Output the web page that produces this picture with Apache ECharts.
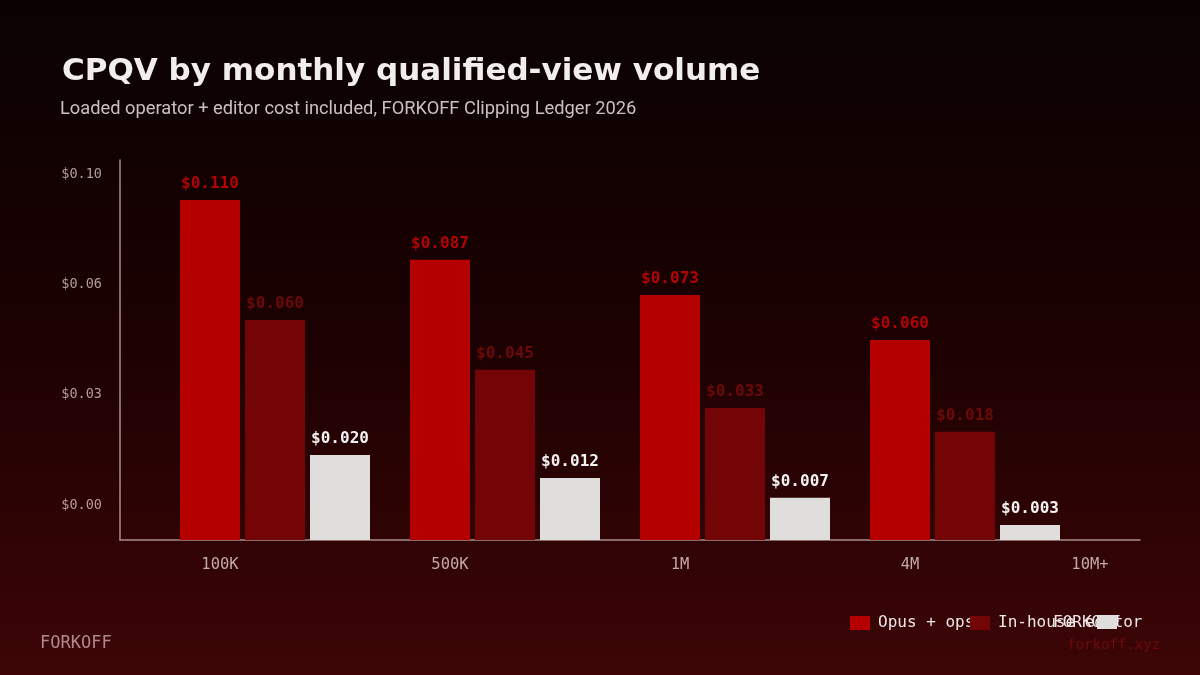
<!DOCTYPE html>
<html>
<head>
<meta charset="utf-8">
<script src="https://cdn.jsdelivr.net/npm/echarts@6/dist/echarts.min.js"></script>
<style>
  html, body { margin: 0; padding: 0; background: #0a0000; }
  #chart { width: 1200px; height: 675px; }
</style>
</head>
<body>
<div id="chart"></div>
<script>
// ---- data ----
const categories = ['100K', '500K', '1M', '4M', '10M+'];
const seriesNames = ['Opus + ops', 'In-house editor', 'FORKOFF'];
// bar heights as read against the y axis
const opusValues = [0.0927, 0.0764, 0.0668, 0.0545];
const inhouseValues = [0.0600, 0.0464, 0.0360, 0.0295];
const forkoffValues = [0.0232, 0.0169, 0.0115, 0.0041];
// values printed above the bars
const opusLabels = [0.110, 0.087, 0.073, 0.060];
const inhouseLabels = [0.060, 0.045, 0.033, 0.018];
const forkoffLabels = [0.020, 0.012, 0.007, 0.003];
// y-axis tick labels
const yTickLabels = ['$0.00', '$0.03', '$0.06', '$0.10'];
const yInterval = 0.03;
const yMax = 0.1036;

const barCategories = categories.slice(0, opusValues.length);

const MONO = '"DejaVu Sans Mono", monospace';
const colors = ['#b50000', '#740507', '#e0dddd'];
const labelColors = ['#b30303', '#6c0909', '#f4f2f2'];
const labelSets = [opusLabels, inhouseLabels, forkoffLabels];
const valueSets = [opusValues, inhouseValues, forkoffValues];

const chart = echarts.init(document.getElementById('chart'), null, { renderer: 'canvas' });

const series = seriesNames.map((name, i) => ({
  name: name,
  type: 'bar',
  xAxisIndex: 1,
  yAxisIndex: 1,
  data: valueSets[i],
  barWidth: 60,
  barGap: '8.33%',
  itemStyle: { color: colors[i] },
  label: {
    show: true,
    position: 'top',
    distance: 8,
    fontFamily: MONO,
    fontWeight: 'bold',
    fontSize: 16,
    color: labelColors[i],
    formatter: (p) => '$' + labelSets[i][p.dataIndex].toFixed(3)
  }
}));

const legendText = { color: '#f0e8e8', fontFamily: MONO, fontSize: 16 };

const option = {
  animation: false,
  backgroundColor: {
    type: 'linear', x: 0, y: 0, x2: 0, y2: 1,
    colorStops: [
      { offset: 0, color: '#0a0202' },
      { offset: 0.5, color: '#1c0102' },
      { offset: 1, color: '#3d0506' }
    ]
  },
  color: colors,
  title: [
    {
      text: 'CPQV by monthly qualified-view volume',
      left: 62, top: 56, padding: 0,
      textStyle: { color: '#f2eeee', fontFamily: '"DejaVu Sans", sans-serif', fontWeight: 'bold', fontSize: 31 }
    },
    {
      text: 'Loaded operator + editor cost included, FORKOFF Clipping Ledger 2026',
      left: 60, top: 100, padding: 0,
      textStyle: { color: '#c9c1c1', fontFamily: 'Roboto, sans-serif', fontWeight: 'normal', fontSize: 18.3 }
    }
  ],
  legend: [
    { left: 850, top: 615, padding: 0, icon: 'rect', itemWidth: 20, itemHeight: 14, data: [seriesNames[0]],
      textStyle: Object.assign({ padding: [0, 0, 0, 3] }, legendText) },
    { left: 970, top: 615, padding: 0, icon: 'rect', itemWidth: 20, itemHeight: 14, data: [seriesNames[1]],
      textStyle: Object.assign({ padding: [0, 0, 0, 3] }, legendText) },
    { left: 1048, top: 615, padding: 0, icon: 'rect', itemWidth: 0, itemHeight: 0, data: [seriesNames[2]],
      textStyle: legendText, z: 4 },
    { left: 1097, top: 615, padding: 0, icon: 'rect', itemWidth: 20, itemHeight: 14, data: [seriesNames[2]],
      formatter: () => '', textStyle: legendText, z: 5 }
  ],
  grid: [
    { left: 120, right: 60, top: 160, bottom: 135 },
    { left: 160, right: 120, top: 160, bottom: 135 },
    { left: 220, right: 60, top: 160, bottom: 135 }
  ],
  xAxis: [
    { gridIndex: 0, type: 'value', min: 0, max: 1,
      axisLine: { show: true, lineStyle: { color: '#a88c8c', width: 1.5 } },
      axisTick: { show: false }, axisLabel: { show: false }, splitLine: { show: false } },
    { gridIndex: 1, type: 'category', data: barCategories,
      axisLine: { show: false }, axisTick: { show: false }, axisLabel: { show: false } },
    { gridIndex: 2, type: 'category', data: categories, boundaryGap: false,
      axisLine: { show: false }, axisTick: { show: false },
      axisLabel: {
        show: true, margin: 17, interval: 0,
        color: '#c2a9a9', fontFamily: MONO, fontSize: 15.5,
        formatter: (v, i) => i === categories.length - 1 ? '{last|' + v + '}' : v,
        rich: { last: { padding: [0, 100, 0, 0], color: '#c2a9a9', fontFamily: MONO, fontSize: 15.5 } }
      } }
  ],
  yAxis: [
    { gridIndex: 0, type: 'value', min: 0, max: yMax, interval: yInterval,
      axisLine: { show: true, lineStyle: { color: '#a88c8c', width: 1.5 } },
      axisTick: { show: false }, splitLine: { show: false },
      axisLabel: {
        margin: 18, color: '#b59a9a', fontFamily: MONO, fontSize: 13.5,
        verticalAlign: 'bottom', lineHeight: 70,
        showMaxLabel: true,
        formatter: (v) => {
          const idx = Math.round(v / yInterval);
          if (Math.abs(v - idx * yInterval) > 1e-9 || idx >= yTickLabels.length) return '';
          return yTickLabels[idx];
        }
      } },
    { gridIndex: 1, type: 'value', min: 0, max: yMax, show: false },
    { gridIndex: 2, type: 'value', min: 0, max: 1, show: false }
  ],
  graphic: [
    { type: 'text', left: 40, top: 635,
      style: { text: 'FORKOFF', fill: '#b08a8a', font: '17px ' + MONO } },
    { type: 'text', right: 40, top: 638,
      style: { text: 'forkoff.xyz', fill: '#6e0b0b', font: '14px ' + MONO } }
  ],
  series: series
};

chart.setOption(option);
</script>
</body>
</html>
